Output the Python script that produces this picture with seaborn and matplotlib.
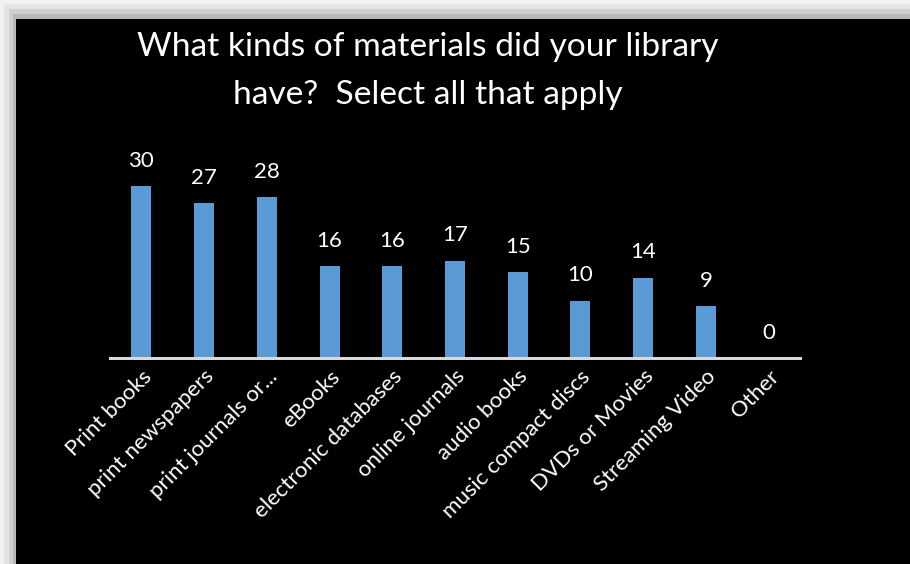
import matplotlib
matplotlib.use("Agg")
import matplotlib.pyplot as plt
from matplotlib.patches import Rectangle
import seaborn as sns
import pandas as pd

categories = [
    "Print books", "print newspapers", "print journals or...", "eBooks",
    "electronic databases", "online journals", "audio books",
    "music compact discs", "DVDs or Movies", "Streaming Video", "Other",
]
counts = [30, 27, 28, 16, 16, 17, 15, 10, 14, 9, 0]
title = "What kinds of materials did your library\nhave?  Select all that apply"

sns.set_theme(style="white")
plt.rcParams["font.family"] = ["Lato", "DejaVu Sans"]

W, H = 910, 564
fig = plt.figure(figsize=(W / 100, H / 100), dpi=100)
fig.patch.set_facecolor("black")

# soft grey frame shading along the top and left edges of the dark panel
for (x1, y1, c) in [(16, 19, "#b8b8b8"), (13, 14, "#d0d0d0"), (9, 9, "#e4e4e4"), (4, 4, "#f2f2f2")]:
    fig.add_artist(Rectangle((0, 1 - y1 / H), 1, y1 / H,
                             transform=fig.transFigure, color=c, zorder=0, lw=0))
    fig.add_artist(Rectangle((0, 0), x1 / W, 1,
                             transform=fig.transFigure, color=c, zorder=0, lw=0))

base_y, top_y = 358, 186
left_x, right_x = 110, 800
ax = fig.add_axes([left_x / W, (H - base_y) / H, (right_x - left_x) / W, (base_y - top_y) / H])
ax.set_facecolor("none")

df = pd.DataFrame({"category": categories, "count": counts})
sns.barplot(data=df, x="category", y="count", color="#5B9BD5", saturation=1,
            width=0.32, linewidth=0, edgecolor="none", ax=ax)
ax.set_xlim(-0.5, len(categories) - 0.5)
ax.set_ylim(0, 30)
for c in ax.containers:
    ax.bar_label(c, labels=[str(v) for v in counts], padding=11,
                 color="white", fontsize=16)

for s in ["top", "right", "left"]:
    ax.spines[s].set_visible(False)
ax.spines["bottom"].set_color("#d9d9d9")
ax.spines["bottom"].set_linewidth(2.2)
ax.set_yticks([])
ax.set_xlabel("")
ax.set_ylabel("")
ax.tick_params(axis="x", length=0, pad=6)
ax.set_xticks(range(len(categories)))
ax.set_xticklabels(categories, rotation=45, ha="right", rotation_mode="anchor",
                   color="white", fontsize=16)

fig.text(428 / W, 1 - 71 / H, title, ha="center", va="center", color="white",
         fontsize=24.1, linespacing=1.72)

fig.savefig("out.png", dpi=100, facecolor=fig.get_facecolor())
